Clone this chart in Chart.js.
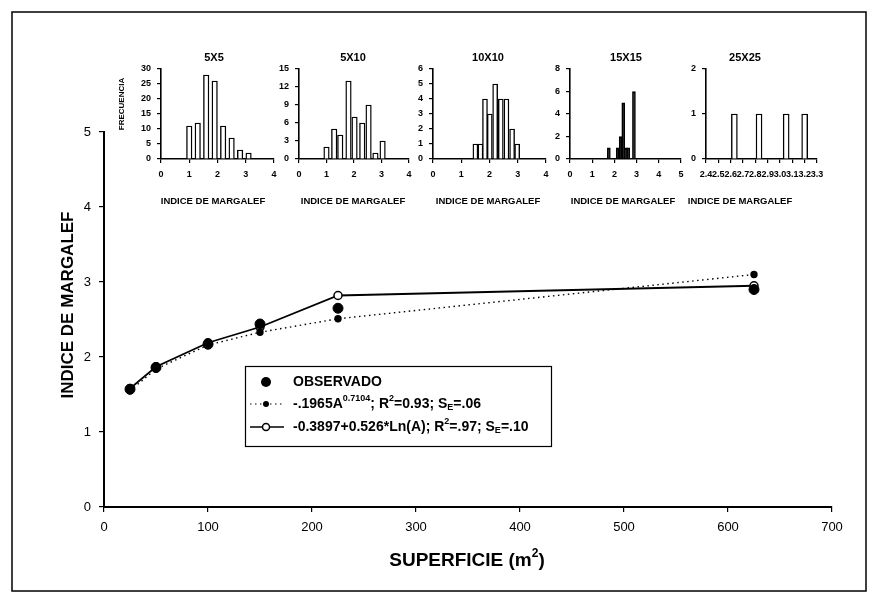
<!DOCTYPE html>
<html>
<head>
<meta charset="utf-8">
<script src="https://cdn.jsdelivr.net/npm/chart.js@4.4.1/dist/chart.umd.min.js"></script>
<style>
  body { margin: 0; background: #fff; width: 878px; height: 604px; position: relative; overflow: hidden; }
  canvas { position: absolute; }
</style>
</head>
<body>
<canvas id="main" width="878" height="604" style="left:0;top:0"></canvas>
<canvas id="h0"></canvas>
<canvas id="h1"></canvas>
<canvas id="h2"></canvas>
<canvas id="h3"></canvas>
<canvas id="h4"></canvas>
<script>
const FONT = 'Arial, "Liberation Sans", Helvetica, sans-serif';

// main chart: Margalef index vs. quadrat area
const superficie = [25, 50, 100, 150, 225, 625];
const observado = [1.57, 1.86, 2.17, 2.44, 2.65, 2.90];
const ajustePotencia = [1.55, 1.84, 2.16, 2.33, 2.51, 3.10];
const ajusteLog = [1.58, 1.87, 2.19, 2.40, 2.82, 2.95];
const xTicks = [0, 100, 200, 300, 400, 500, 600, 700];
const yTicks = [0, 1, 2, 3, 4, 5];

// frequency histograms (x = Margalef index, f = frequency)
const histTitles = ['5X5', '5X10', '10X10', '15X15', '25X25'];
const h5x5_x = [1.0, 1.3, 1.6, 1.9, 2.2, 2.5, 2.8, 3.1];
const h5x5_f = [11, 12, 28, 26, 11, 7, 3, 2];
const h5x10_x = [1.0, 1.28, 1.5, 1.8, 2.02, 2.3, 2.53, 2.78, 3.04];
const h5x10_f = [2, 5, 4, 13, 7, 6, 9, 1, 3];
const h10x10_x = [1.5, 1.68, 1.84, 2.01, 2.2, 2.4, 2.6, 2.8, 2.98];
const h10x10_f = [1, 1, 4, 3, 5, 4, 4, 2, 1];
const h15x15_x = [1.75, 2.15, 2.28, 2.4, 2.52, 2.62, 2.88];
const h15x15_f = [1, 1, 2, 5, 1, 1, 6];
const h25x25_x = [2.63, 2.83, 3.05, 3.2];
const h25x25_f = [1, 1, 1, 1];
const histYMax = [30, 15, 6, 8, 2];
const histYStep = [5, 3, 1, 2, 1];
const histXMin = [0, 0, 0, 0, 2.4];
const histXMax = [4, 4, 4, 5, 3.3];
const histXStep = [1, 1, 1, 1, 0.1];

// layout of the small plots (page pixels)
const insetBox = [
  { l: 161, r: 274, tx: 214, ax: 213, bw: 5.5, fill: '#fff' },
  { l: 299, r: 409, tx: 353, ax: 353, bw: 5.5, fill: '#fff' },
  { l: 433, r: 546, tx: 488, ax: 488, bw: 5, fill: '#fff' },
  { l: 570, r: 681, tx: 626, ax: 623, bw: 3, fill: '#000' },
  { l: 706, r: 817, tx: 745, ax: 740, bw: 6, fill: '#fff' }
];

function richText(ctx, parts, x, y, size) {
  let cx = x;
  parts.forEach(([t, kind]) => {
    const s = kind === 'n' ? size : Math.round(size * 0.62);
    const dy = kind === 'sup' ? -size * 0.38 : kind === 'sub' ? size * 0.28 : 0;
    ctx.font = 'bold ' + s + 'px ' + FONT;
    ctx.fillText(t, cx, y + dy);
    cx += ctx.measureText(t).width;
  });
  return cx - x;
}

function measureRich(ctx, parts, size) {
  let w = 0;
  parts.forEach(([t, kind]) => {
    const s = kind === 'n' ? size : Math.round(size * 0.62);
    ctx.font = 'bold ' + s + 'px ' + FONT;
    w += ctx.measureText(t).width;
  });
  return w;
}

const mainDecor = {
  id: 'mainDecor',
  afterDraw(chart) {
    const ctx = chart.ctx;
    ctx.save();
    ctx.strokeStyle = '#000';
    ctx.fillStyle = '#000';
    // outer frame
    ctx.lineWidth = 1.5;
    ctx.strokeRect(12, 12, 854, 579);

    // axis titles
    ctx.textBaseline = 'middle';
    ctx.textAlign = 'left';
    const xt = [['SUPERFICIE (m', 'n'], ['2', 'sup'], [')', 'n']];
    const w = measureRich(ctx, xt, 19);
    richText(ctx, xt, 467 - w / 2, 561, 19);

    ctx.save();
    ctx.translate(68, 305);
    ctx.rotate(-Math.PI / 2);
    ctx.textAlign = 'center';
    ctx.font = 'bold 17px ' + FONT;
    ctx.fillText('INDICE DE MARGALEF', 0, 0);
    ctx.restore();

    // legend
    ctx.lineWidth = 1.2;
    ctx.strokeRect(245.5, 366.5, 306, 80);
    const rows = [382, 404, 427];
    ctx.beginPath(); ctx.arc(266, rows[0], 5, 0, Math.PI * 2); ctx.fill();
    richText(ctx, [['OBSERVADO', 'n']], 293, rows[0], 14);

    ctx.save();
    ctx.lineWidth = 1.2;
    ctx.setLineDash([1.5, 3.5]);
    ctx.beginPath(); ctx.moveTo(250, rows[1]); ctx.lineTo(284, rows[1]); ctx.stroke();
    ctx.restore();
    ctx.beginPath(); ctx.arc(266, rows[1], 3, 0, Math.PI * 2); ctx.fill();
    richText(ctx, [['-.1965A', 'n'], ['0.7104', 'sup'], ['; R', 'n'], ['2', 'sup'], ['=0.93; S', 'n'], ['E', 'sub'], ['=.06', 'n']], 293, rows[1], 14);

    ctx.lineWidth = 1.5;
    ctx.beginPath(); ctx.moveTo(250, rows[2]); ctx.lineTo(284, rows[2]); ctx.stroke();
    ctx.fillStyle = '#fff';
    ctx.beginPath(); ctx.arc(266, rows[2], 3.5, 0, Math.PI * 2); ctx.fill(); ctx.stroke();
    ctx.fillStyle = '#000';
    richText(ctx, [['-0.3897+0.526*Ln(A); R', 'n'], ['2', 'sup'], ['=.97; S', 'n'], ['E', 'sub'], ['=.10', 'n']], 293, rows[2], 14);
    ctx.restore();
  }
};

const pts = ys => superficie.map((x, i) => ({ x: x, y: ys[i] }));

new Chart(document.getElementById('main'), {
  type: 'line',
  data: {
    datasets: [
      {
        label: 'OBSERVADO',
        data: pts(observado),
        showLine: false,
        pointRadius: 5,
        pointBackgroundColor: '#000',
        pointBorderColor: '#000',
        borderColor: '#000'
      },
      {
        label: 'potencia',
        data: pts(ajustePotencia),
        borderColor: '#000',
        borderWidth: 1.4,
        borderDash: [1.5, 3.5],
        pointRadius: 3,
        pointBackgroundColor: '#000',
        pointBorderColor: '#000',
        tension: 0
      },
      {
        label: 'logaritmico',
        data: pts(ajusteLog),
        borderColor: '#000',
        borderWidth: 1.8,
        pointRadius: 4,
        pointBorderWidth: 1.5,
        pointBackgroundColor: '#fff',
        pointBorderColor: '#000',
        tension: 0
      }
    ]
  },
  options: {
    responsive: false,
    animation: false,
    devicePixelRatio: 1,
    layout: { padding: { top: 132, right: 46, left: 0, bottom: 0 } },
    plugins: { legend: { display: false }, tooltip: { enabled: false } },
    scales: {
      x: {
        type: 'linear',
        min: xTicks[0],
        max: xTicks[xTicks.length - 1],
        afterFit: s => { s.height = 97; },
        afterBuildTicks: s => { s.ticks = xTicks.map(v => ({ value: v })); },
        ticks: { color: '#000', font: { size: 13, family: FONT }, padding: 8, maxRotation: 0, autoSkip: false },
        grid: { drawOnChartArea: false, color: '#000', tickLength: 5, lineWidth: 1.2 },
        border: { color: '#000', width: 2 }
      },
      y: {
        min: yTicks[0],
        max: yTicks[yTicks.length - 1],
        afterFit: s => { s.width = 104; },
        afterBuildTicks: s => { s.ticks = yTicks.map(v => ({ value: v })); },
        ticks: { color: '#000', font: { size: 13, family: FONT }, padding: 8 },
        grid: { drawOnChartArea: false, color: '#000', tickLength: 5, lineWidth: 1.2 },
        border: { color: '#000', width: 2 }
      }
    }
  },
  plugins: [mainDecor]
});

function makeHist(i, xs, fs) {
  const box = insetBox[i];
  const leftM = i === 0 ? 52 : 34, rightM = 26, top = 40, H = 175;
  const cv = document.getElementById('h' + i);
  cv.width = (box.r - box.l) + leftM + rightM;
  cv.height = H;
  const ox = box.l - leftM;
  cv.style.left = ox + 'px';
  cv.style.top = top + 'px';
  const tickFont = { size: 9, weight: 'bold', family: FONT };

  const decor = {
    id: 'histDecor' + i,
    afterDraw(chart) {
      const ctx = chart.ctx;
      ctx.save();
      ctx.fillStyle = '#000';
      ctx.textAlign = 'center';
      ctx.textBaseline = 'middle';
      ctx.font = 'bold 11px ' + FONT;
      ctx.fillText(histTitles[i], box.tx - ox, 58 - top);
      ctx.font = 'bold 9.5px ' + FONT;
      ctx.fillText('INDICE DE MARGALEF', box.ax - ox, 201 - top);
      if (i === 0) {
        ctx.translate(122 - ox, 104 - top);
        ctx.rotate(-Math.PI / 2);
        ctx.font = 'bold 8px ' + FONT;
        ctx.fillText('FRECUENCIA', 0, 0);
      }
      ctx.restore();
    }
  };

  new Chart(cv, {
    type: 'bar',
    data: {
      datasets: [{
        data: xs.map((x, k) => ({ x: x, y: fs[k] })),
        backgroundColor: box.fill,
        borderColor: '#000',
        borderWidth: 1.4,
        barThickness: box.bw
      }]
    },
    options: {
      responsive: false,
      animation: false,
      devicePixelRatio: 1,
      layout: { padding: { top: 69 - top, right: rightM, left: 0, bottom: 0 } },
      plugins: { legend: { display: false }, tooltip: { enabled: false } },
      scales: {
        x: {
          type: 'linear',
          min: histXMin[i],
          max: histXMax[i],
          offset: false,
          afterFit: s => { s.height = H - (159 - top); },
          ticks: {
            stepSize: histXStep[i], autoSkip: false, maxRotation: 0, padding: 6,
            color: '#000', font: tickFont,
            callback: v => histXStep[i] < 1 ? Number(v).toFixed(1) : v
          },
          grid: { offset: false, drawOnChartArea: false, color: '#000', tickLength: 4, lineWidth: 1.2 },
          border: { color: '#000', width: 1.6 }
        },
        y: {
          min: 0,
          max: histYMax[i],
          afterFit: s => { s.width = leftM; },
          ticks: { stepSize: histYStep[i], autoSkip: false, padding: 6, color: '#000', font: tickFont },
          grid: { drawOnChartArea: false, color: '#000', tickLength: 4, lineWidth: 1.2 },
          border: { color: '#000', width: 1.6 }
        }
      }
    },
    plugins: [decor]
  });
}

makeHist(0, h5x5_x, h5x5_f);
makeHist(1, h5x10_x, h5x10_f);
makeHist(2, h10x10_x, h10x10_f);
makeHist(3, h15x15_x, h15x15_f);
makeHist(4, h25x25_x, h25x25_f);
</script>
</body>
</html>
